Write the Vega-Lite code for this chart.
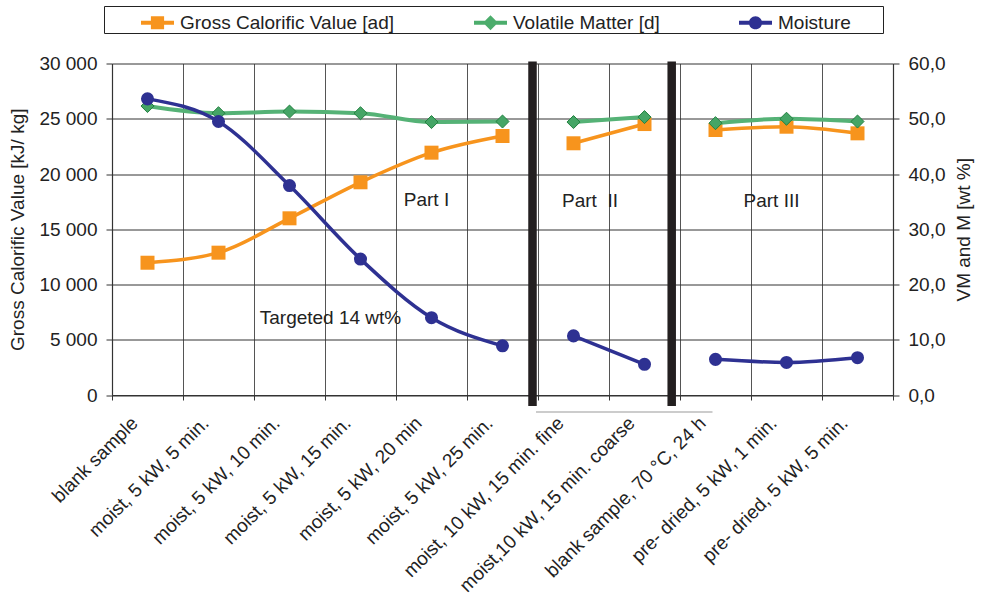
{
  "$schema": "https://vega.github.io/schema/vega-lite/v6.json",
  "width": 781,
  "height": 331.5,
  "autosize": {"type": "none"},
  "padding": {"left": 112, "top": 63.5, "right": 90, "bottom": 209},
  "config": {
    "font": "Liberation Sans",
    "view": {"stroke": null},
    "axis": {
      "labelFontSize": 19, "titleFontSize": 19, "titleFontWeight": "normal",
      "labelColor": "#222", "titleColor": "#222", "domainColor": "#333",
      "tickColor": "#333", "gridColor": "#333", "gridOpacity": 1, "domainWidth": 1.2
    }
  },
  "datasets": {
    "samples": [
      {"cat": "blank sample", "i": 1, "part": "I", "gcv": 11970, "vm": 52.3, "m": 53.6},
      {"cat": "moist, 5 kW, 5 min.", "i": 2, "part": "I", "gcv": 12880, "vm": 51.0, "m": 49.5},
      {"cat": "moist, 5 kW, 10 min.", "i": 3, "part": "I", "gcv": 15990, "vm": 51.3, "m": 37.9},
      {"cat": "moist, 5 kW, 15 min.", "i": 4, "part": "I", "gcv": 19250, "vm": 51.0, "m": 24.6},
      {"cat": "moist, 5 kW, 20 min", "i": 5, "part": "I", "gcv": 21930, "vm": 49.4, "m": 14.0},
      {"cat": "moist, 5 kW, 25 min.", "i": 6, "part": "I", "gcv": 23440, "vm": 49.5, "m": 8.9},
      {"cat": "moist, 10 kW, 15 min. fine", "i": 7, "part": "II", "gcv": 22780, "vm": 49.4, "m": 10.7},
      {"cat": "moist,10 kW, 15 min. coarse", "i": 8, "part": "II", "gcv": 24520, "vm": 50.3, "m": 5.55},
      {"cat": "blank sample, 70 °C, 24 h", "i": 9, "part": "III", "gcv": 23980, "vm": 49.2, "m": 6.45},
      {"cat": "pre- dried, 5 kW, 1 min.", "i": 10, "part": "III", "gcv": 24280, "vm": 50.0, "m": 5.9},
      {"cat": "pre- dried, 5 kW, 5 min.", "i": 11, "part": "III", "gcv": 23680, "vm": 49.5, "m": 6.75}
    ],
    "series": [
      {"series": "Gross Calorific Value [ad]"},
      {"series": "Volatile Matter [d]"},
      {"series": "Moisture"}
    ]
  },
  "data": {"name": "samples"},
  "encoding": {
    "x": {
      "field": "cat", "type": "nominal", "sort": null,
      "scale": {
        "type": "band", "paddingInner": 0, "paddingOuter": 0,
        "domain": ["blank sample", "moist, 5 kW, 5 min.", "moist, 5 kW, 10 min.", "moist, 5 kW, 15 min.", "moist, 5 kW, 20 min", "moist, 5 kW, 25 min.", "moist, 10 kW, 15 min. fine", "moist,10 kW, 15 min. coarse", "blank sample, 70 °C, 24 h", "pre- dried, 5 kW, 1 min.", "pre- dried, 5 kW, 5 min."]
      },
      "axis": {
        "title": null, "labelAngle": -45, "labelAlign": "right", "labelBaseline": "alphabetic",
        "labelOffset": -9, "labelPadding": 24, "tickBand": "extent", "grid": true,
        "gridColor": "#555", "tickSize": 5, "labelOverlap": false, "labelBound": false,
        "labelLimit": 500, "labelFlush": false
      }
    }
  },
  "layer": [
    {
      "layer": [
        {
          "mark": {"type": "line", "color": "#F7941D", "strokeWidth": 3.5, "interpolate": "monotone"},
          "encoding": {
            "y": {
              "field": "gcv", "type": "quantitative",
              "scale": {"domain": [0, 30000], "nice": false},
              "axis": {
                "orient": "left", "title": "Gross Calorific Value [kJ/ kg]",
                "values": [0, 5000, 10000, 15000, 20000, 25000, 30000],
                "labelExpr": "replace(format(datum.value, ','), ',', ' ')",
                "grid": true, "tickSize": 6, "labelPadding": 9, "titlePadding": 11
              }
            },
            "detail": {"field": "part"},
            "order": {"field": "i"}
          }
        },
        {
          "mark": {"type": "point", "shape": "square", "filled": true, "size": 196, "color": "#F7941D", "opacity": 1},
          "encoding": {
            "y": {"field": "gcv", "type": "quantitative", "scale": {"domain": [0, 30000], "nice": false}}
          }
        },
        {
          "data": {"values": [{"cat": "moist, 10 kW, 15 min. fine", "gcv": 30000, "bottom": 0}]},
          "mark": {"type": "rule", "strokeWidth": 8.5, "color": "#231F20", "xOffset": -5.5, "yOffset": -2, "y2Offset": 11},
          "encoding": {
            "x": {"field": "cat", "type": "nominal", "bandPosition": 0},
            "y": {"field": "gcv", "type": "quantitative", "scale": {"domain": [0, 30000], "nice": false}},
            "y2": {"field": "bottom"}
          }
        },
        {
          "data": {"values": [{"cat": "blank sample, 70 °C, 24 h", "gcv": 30000, "bottom": 0}]},
          "mark": {"type": "rule", "strokeWidth": 8.5, "color": "#231F20", "xOffset": -8.3, "yOffset": -2, "y2Offset": 11},
          "encoding": {
            "x": {"field": "cat", "type": "nominal", "bandPosition": 0},
            "y": {"field": "gcv", "type": "quantitative", "scale": {"domain": [0, 30000], "nice": false}},
            "y2": {"field": "bottom"}
          }
        },
        {
          "data": {"values": [{"cat": "moist, 10 kW, 15 min. fine", "cat2": "blank sample, 70 °C, 24 h", "gcv": 0}]},
          "mark": {"type": "rule", "strokeWidth": 1.2, "color": "#9a9a9a", "xOffset": -2, "x2Offset": -3, "yOffset": 17},
          "encoding": {
            "x": {"field": "cat", "type": "nominal", "bandPosition": 0},
            "x2": {"field": "cat2"},
            "y": {"field": "gcv", "type": "quantitative", "scale": {"domain": [0, 30000], "nice": false}}
          }
        },
        {
          "data": {"values": [{"cat": "moist, 5 kW, 20 min", "gcv": 17650, "label": "Part I"}]},
          "mark": {"type": "text", "fontSize": 19, "color": "#222", "dx": -5, "align": "center", "baseline": "middle"},
          "encoding": {
            "y": {"field": "gcv", "type": "quantitative", "scale": {"domain": [0, 30000], "nice": false}},
            "text": {"field": "label"}
          }
        },
        {
          "data": {"values": [{"cat": "moist, 10 kW, 15 min. fine", "gcv": 17600, "label": "Part\u00a0 II"}]},
          "mark": {"type": "text", "fontSize": 19, "color": "#222", "dx": 16.5, "align": "center", "baseline": "middle"},
          "encoding": {
            "y": {"field": "gcv", "type": "quantitative", "scale": {"domain": [0, 30000], "nice": false}},
            "text": {"field": "label"}
          }
        },
        {
          "data": {"values": [{"cat": "pre- dried, 5 kW, 1 min.", "gcv": 17600, "label": "Part III"}]},
          "mark": {"type": "text", "fontSize": 19, "color": "#222", "dx": -15, "align": "center", "baseline": "middle"},
          "encoding": {
            "y": {"field": "gcv", "type": "quantitative", "scale": {"domain": [0, 30000], "nice": false}},
            "text": {"field": "label"}
          }
        },
        {
          "data": {"values": [{"cat": "moist, 5 kW, 15 min.", "gcv": 6970, "label": "Targeted 14 wt%"}]},
          "mark": {"type": "text", "fontSize": 19, "color": "#222", "dx": -30, "align": "center", "baseline": "middle"},
          "encoding": {
            "y": {"field": "gcv", "type": "quantitative", "scale": {"domain": [0, 30000], "nice": false}},
            "text": {"field": "label"}
          }
        }
      ]
    },
    {
      "layer": [
        {
          "mark": {"type": "line", "color": "#55B276", "strokeWidth": 4, "interpolate": "monotone"},
          "encoding": {
            "y": {
              "field": "vm", "type": "quantitative",
              "scale": {"domain": [0, 60], "nice": false},
              "axis": {
                "orient": "right", "title": "VM and M [wt %]", "titleAngle": 270, "titleBaseline": "top",
                "values": [0, 10, 20, 30, 40, 50, 60],
                "labelExpr": "replace(format(datum.value, '.1f'), '.', ',')",
                "grid": false, "tickSize": 6, "labelPadding": 9, "titlePadding": 10
              }
            },
            "detail": {"field": "part"},
            "order": {"field": "i"}
          }
        },
        {
          "mark": {"type": "point", "shape": "diamond", "filled": true, "size": 170, "fill": "#45A566", "stroke": "#22803F", "strokeWidth": 1, "opacity": 1},
          "encoding": {
            "y": {"field": "vm", "type": "quantitative", "scale": {"domain": [0, 60], "nice": false}}
          }
        },
        {
          "mark": {"type": "line", "color": "#2E3192", "strokeWidth": 3.5, "interpolate": "monotone"},
          "encoding": {
            "y": {"field": "m", "type": "quantitative", "scale": {"domain": [0, 60], "nice": false}},
            "detail": {"field": "part"},
            "order": {"field": "i"}
          }
        },
        {
          "mark": {"type": "point", "shape": "circle", "filled": true, "size": 170, "color": "#2E3192", "opacity": 1},
          "encoding": {
            "y": {"field": "m", "type": "quantitative", "scale": {"domain": [0, 60], "nice": false}}
          }
        },
        {
          "data": {"name": "series"},
          "mark": {"type": "point", "filled": true, "opacity": 0},
          "encoding": {
            "color": {
              "field": "series", "type": "nominal",
              "scale": {"domain": ["Gross Calorific Value [ad]", "Volatile Matter [d]", "Moisture"], "range": ["#F7941D", "#4CAD6C", "#2E3192"]},
              "legend": {
                "orient": "none", "legendX": -8, "legendY": -57.5, "direction": "horizontal",
                "title": " ", "titleOrient": "left", "titleFontSize": 1, "titlePadding": 37,
                "padding": 0, "strokeColor": "#222", "fillColor": "white",
                "symbolSize": 1089, "symbolStrokeWidth": 0, "symbolOpacity": 1,
                "labelFontSize": 19, "labelColor": "#222", "labelOffset": 6, "columnPadding": 79, "labelLimit": 500,
                "labelExpr": "datum.label == 'Moisture' ? 'Moisture      \u200b' : datum.label"
              }
            },
            "shape": {
              "field": "series", "type": "nominal",
              "scale": {
                "domain": ["Gross Calorific Value [ad]", "Volatile Matter [d]", "Moisture"],
                "range": [
                  "M-1,-0.12H1V0.12H-1Z M-0.4,-0.4H0.4V0.4H-0.4Z",
                  "M-1,-0.12H1V0.12H-1Z M0,-0.45L0.45,0L0,0.45L-0.45,0Z",
                  "M-1,-0.12H1V0.12H-1Z M-0.4,0A0.4,0.4 0 1,1 0.4,0A0.4,0.4 0 1,1 -0.4,0Z"
                ]
              },
              "legend": {
                "orient": "none", "legendX": -8, "legendY": -57.5, "direction": "horizontal",
                "title": " ", "titleOrient": "left", "titleFontSize": 1, "titlePadding": 37,
                "padding": 0, "strokeColor": "#222", "fillColor": "white",
                "symbolSize": 1089, "symbolStrokeWidth": 0, "symbolOpacity": 1,
                "labelFontSize": 19, "labelColor": "#222", "labelOffset": 6, "columnPadding": 79, "labelLimit": 500,
                "labelExpr": "datum.label == 'Moisture' ? 'Moisture      \u200b' : datum.label"
              }
            }
          }
        }
      ]
    }
  ],
  "resolve": {"scale": {"y": "independent"}}
}
